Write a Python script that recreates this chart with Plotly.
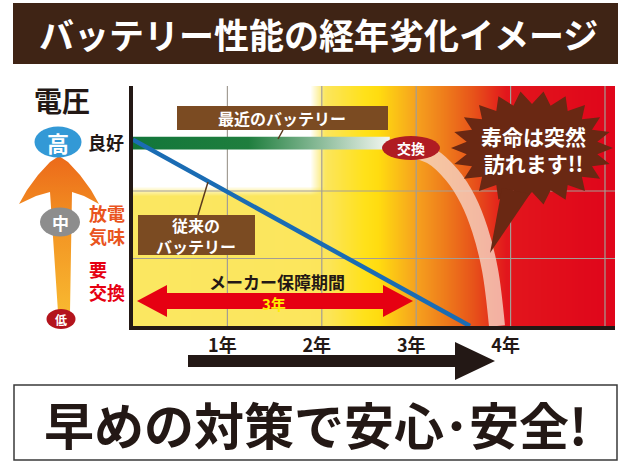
import math

import plotly.graph_objects as go

W, H = 631, 466
FONT = "Noto Sans CJK JP, Noto Sans CJK SC, sans-serif"
INK = "#231815"

# --- chart data: x in years, y in relative voltage units ---
YEAR_TICKS = [1, 2, 3, 4]
YEAR_LABELS = ["1年", "2年", "3年", "4年"]
GRID_YEARS = [1, 2, 3, 4, 5]
GRID_VOLTS = [1, 2]
X_MAX = 5.106
Y_MAX = 3.556

OLD_BATT_YEARS = [0, 3.57]
OLD_BATT_VOLT = [2.76, 0]

NEW_BATT_YEARS = [0, 2.72]
NEW_BATT_VOLT = [2.71, 2.71]
NEW_BATT_HALF = 0.095

SUDDEN_YEARS = [2.945, 3.157, 3.379, 3.549, 3.676, 3.782, 3.856]
SUDDEN_VOLT = [2.607, 2.519, 2.237, 1.867, 1.422, 0.83, 0.0]

# background zones (white -> yellow -> orange -> red)
BG_X = [-0.3, 1.5, 1.88, 2.05, 2.45, 2.6, 3.0, 3.3, 3.6, 3.95, 5.4]
BG_Y = [-0.3, 1.93, 2.07, 3.8]
BG_LOW = [0.22, 0.24, 0.25, 0.26, 0.42, 0.45, 0.6, 0.72, 0.85, 0.97, 1.0]
BG_HIGH = [0.0, 0.0, 0.0, 0.26, 0.42, 0.45, 0.6, 0.72, 0.85, 0.97, 1.0]
BG_SCALE = [
    [0.0, "#ffffff"], [0.22, "#fbe762"], [0.26, "#fce55a"], [0.42, "#ffe11a"],
    [0.45, "#ffdc10"], [0.6, "#f6a11e"], [0.72, "#ee7b1b"], [0.85, "#e7531a"],
    [0.97, "#e2161c"], [1.0, "#df001a"],
]

fig = go.Figure()

fig.add_trace(go.Heatmap(
    x=BG_X, y=BG_Y, z=[BG_LOW, BG_LOW, BG_HIGH, BG_HIGH],
    zmin=0, zmax=1, colorscale=BG_SCALE, zsmooth="best",
    showscale=False, hoverinfo="skip",
))

# grid lines drawn as traces so they sit above the background
gx, gy = [], []
for yr in GRID_YEARS:
    gx += [yr, yr, None]
    gy += [0, Y_MAX, None]
for v in GRID_VOLTS:
    gx += [0, X_MAX, None]
    gy += [v, v, None]
fig.add_trace(go.Scatter(x=gx, y=gy, mode="lines", hoverinfo="skip",
                         line=dict(color="#a39d95", width=1.2), showlegend=False))

# recent battery: thick band fading into white
bx = [NEW_BATT_YEARS[0], NEW_BATT_YEARS[1], NEW_BATT_YEARS[1], NEW_BATT_YEARS[0], NEW_BATT_YEARS[0]]
by = [NEW_BATT_VOLT[0] - NEW_BATT_HALF, NEW_BATT_VOLT[1] - NEW_BATT_HALF,
      NEW_BATT_VOLT[1] + NEW_BATT_HALF, NEW_BATT_VOLT[0] + NEW_BATT_HALF,
      NEW_BATT_VOLT[0] - NEW_BATT_HALF]
fig.add_trace(go.Scatter(
    x=bx, y=by, mode="lines", fill="toself", line=dict(width=0),
    fillgradient=dict(type="horizontal",
                      colorscale=[[0, "#12763a"], [0.45, "#1f7e3e"], [1, "#f4f7f2"]]),
    hoverinfo="skip", showlegend=False,
))

fig.add_trace(go.Scatter(
    x=SUDDEN_YEARS, y=SUDDEN_VOLT, mode="lines", hoverinfo="skip",
    line=dict(color="rgba(246,212,196,0.8)", width=16, shape="spline"), showlegend=False,
))

fig.add_trace(go.Scatter(
    x=OLD_BATT_YEARS, y=OLD_BATT_VOLT, mode="lines", hoverinfo="skip",
    line=dict(color="#1a6cb4", width=4.5), showlegend=False,
))

# voltage arrow on the left (pixel overlay axes)
ARROW_X = [59, 68, 80, 91, 99, 84, 72, 70, 58, 50, 36, 19, 27, 38, 50, 59]
ARROW_Y = [156, 162, 175, 190, 204, 196, 192, 312, 312, 192, 196, 204, 190, 175, 162, 156]
fig.add_trace(go.Scatter(
    x=ARROW_X, y=ARROW_Y, xaxis="x2", yaxis="y2", mode="lines", fill="toself",
    line=dict(width=0), hoverinfo="skip", showlegend=False,
    fillgradient=dict(type="vertical", start=312, stop=157,
                      colorscale=[[0, "#f8b830"], [0.6, "#f29022"], [1, "#ec6a1a"]]),
))

shapes = []


def rect(x0, y0, x1, y1, color, line=None):
    shapes.append(dict(type="rect", xref="x2", yref="y2", x0=x0, y0=y0, x1=x1, y1=y1,
                       fillcolor=color, line=line or dict(width=0), layer="above"))


def oval(cx, cy, w, h, color):
    shapes.append(dict(type="circle", xref="x2", yref="y2", x0=cx - w / 2, x1=cx + w / 2,
                       y0=cy - h / 2, y1=cy + h / 2, fillcolor=color,
                       line=dict(width=0), layer="above"))


def poly(pts, color):
    path = "M " + " L ".join(f"{x},{y}" for x, y in pts) + " Z"
    shapes.append(dict(type="path", xref="x2", yref="y2", path=path, fillcolor=color,
                       line=dict(width=0), layer="above"))


def seg(x0, y0, x1, y1, color, width):
    shapes.append(dict(type="line", xref="x2", yref="y2", x0=x0, y0=y0, x1=x1, y1=y1,
                       line=dict(color=color, width=width), layer="above"))


# banner + bottom box
rect(13, 3, 618, 64, "#3f2415")
rect(14, 385, 617, 460, "#ffffff", dict(color="#3a3a3a", width=1.5))

# left legend circles
oval(58, 142, 47, 31, "#3399d6")
oval(60, 222, 40, 29, "#8d8d8d")
oval(61, 319, 29, 20, "#b3141d")

# label boxes with pointers
BOX = "#7b4b22"
rect(177, 106, 388, 130, BOX)
seg(283, 130, 278, 139, "#5b3a1e", 1.5)
rect(138, 215, 255, 255, BOX)
seg(198, 215, 208, 182, "#5b3a1e", 1.5)

oval(411, 148, 58, 24, "#b01c22")

# burst bubble
burst = []
n = 22
for i in range(2 * n):
    a = math.pi * i / n
    rx, ry = (81, 57) if i % 2 == 0 else (66, 44)
    burst.append((round(532 + rx * math.cos(a), 1), round(148 + ry * math.sin(a), 1)))
poly(burst, "#6a2813")
poly([(502, 188), (530, 194), (490, 253)], "#6a2813")

# warranty double arrow
RED = "#e60012"
poly([(137, 301), (167, 285), (167, 293), (383, 293), (383, 285), (413, 301),
      (383, 317), (383, 309), (167, 309), (167, 317)], RED)

# time arrow
poly([(188, 355), (455, 355), (455, 342), (495, 361), (455, 380), (455, 367), (188, 367)], INK)

annotations = []


def text(x, y, s, size, color=INK, weight="bold", anchor="center", align="center"):
    annotations.append(dict(x=x, y=y, xref="x2", yref="y2", text=s, showarrow=False,
                            xanchor=anchor, yanchor="middle", align=align,
                            font=dict(family=FONT, size=size, color=color, weight=weight)))


text(318, 33, "バッテリー性能の経年劣化イメージ", 35, "#ffffff")
text(62, 100, "電圧", 28)
text(58, 142, "高", 22, "#ffffff")
text(106, 142, "良好", 18)
text(60, 222, "中", 17, "#ffffff")
text(87, 224, "放電<br>気味", 18, "#e9541d", anchor="left", align="left")
text(87, 280, "要<br>交換", 18, RED, anchor="left", align="left")
text(61, 319, "低", 12, "#ffffff")
text(282, 118, "最近のバッテリー", 16, "#ffffff")
text(196, 235, "従来の<br>バッテリー", 16, "#ffffff")
text(411, 148, "交換", 14, "#ffffff")
text(533, 149, "寿命は突然<br>訪れます!!", 21, "#ffffff")
text(277, 281, "メーカー保障期間", 17)
text(274, 303, "3年", 15, "#fff000")
text(316, 423, "早めの対策で安心･安全!", 50)

fig.update_layout(
    width=W, height=H, autosize=False,
    margin=dict(l=0, r=0, t=0, b=0),
    paper_bgcolor="#ffffff", plot_bgcolor="rgba(0,0,0,0)",
    showlegend=False,
    font=dict(family=FONT, color=INK),
    xaxis=dict(domain=[133 / W, 615 / W], range=[0, X_MAX], showgrid=False, zeroline=False,
               showline=True, linecolor=INK, linewidth=4,
               tickvals=YEAR_TICKS, ticktext=YEAR_LABELS, ticks="",
               ticklabelshift=-5, ticklabelstandoff=0,
               tickfont=dict(family=FONT, size=18, color=INK, weight="bold"),
               fixedrange=True),
    yaxis=dict(domain=[1 - 326 / H, 1 - 86 / H], range=[0, Y_MAX], showgrid=False,
               zeroline=False, showline=True, linecolor=INK, linewidth=4,
               showticklabels=False, ticks="", fixedrange=True),
    xaxis2=dict(domain=[0, 1], range=[0, W], anchor="y2", visible=False, fixedrange=True),
    yaxis2=dict(domain=[0, 1], range=[H, 0], anchor="x2", visible=False, fixedrange=True),
    shapes=shapes,
    annotations=annotations,
)

# the page body has a default 8px margin; drop it so the figure fills the window
fig.write_html("out.html", config={"displayModeBar": False},
               post_script="document.body.style.margin='0';")
